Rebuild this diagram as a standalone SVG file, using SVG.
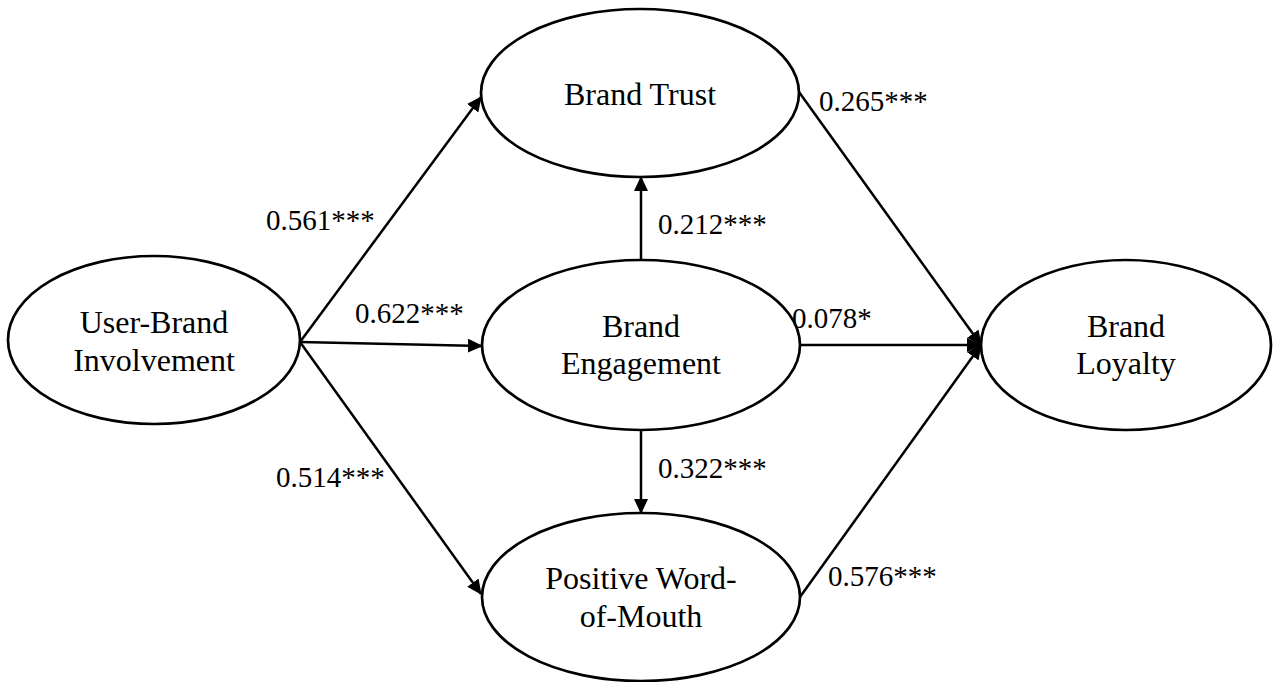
<svg xmlns="http://www.w3.org/2000/svg" width="1277" height="682" viewBox="0 0 1277 682">
<defs>
<marker id="ah" viewBox="0 0 15 14" refX="14" refY="7" markerWidth="15" markerHeight="14" markerUnits="userSpaceOnUse" orient="auto">
<path d="M0,0 L15,7 L0,14 Z" fill="#000"/>
</marker>
<style>
.node ellipse{fill:#fff;stroke:#000;stroke-width:2.7}
.node text{font-family:"Liberation Serif","Times New Roman",serif;font-size:32px;text-anchor:middle;fill:#000}
.lab{font-family:"Liberation Serif","Times New Roman",serif;font-size:29px;fill:#000}
.conn line{stroke:#000;stroke-width:2.5;marker-end:url(#ah)}
</style>
</defs>
<rect width="1277" height="682" fill="#fff"/>
<g class="conn" id="connectors">
<line x1="300" y1="342" x2="481" y2="97"/>
<line x1="300" y1="342" x2="482" y2="346"/>
<line x1="300" y1="342" x2="481" y2="594"/>
<line x1="641" y1="260" x2="641" y2="177"/>
<line x1="641" y1="430" x2="641" y2="513"/>
<line x1="799" y1="92" x2="981" y2="345"/>
<line x1="800" y1="345" x2="981" y2="345"/>
<line x1="800" y1="597" x2="981" y2="345"/>
</g>
<g class="node" id="n-ubi">
<ellipse cx="154" cy="340" rx="146" ry="84"/>
<text x="154" y="333">User-Brand</text>
<text x="154" y="371">Involvement</text>
</g>
<g class="node" id="n-trust">
<ellipse cx="640" cy="93" rx="159" ry="84"/>
<text x="640" y="105">Brand Trust</text>
</g>
<g class="node" id="n-engagement">
<ellipse cx="641" cy="345" rx="159" ry="85"/>
<text x="641" y="337">Brand</text>
<text x="641" y="374">Engagement</text>
</g>
<g class="node" id="n-wom">
<ellipse cx="641" cy="597" rx="159" ry="84"/>
<text x="641" y="589">Positive Word-</text>
<text x="641" y="627">of-Mouth</text>
</g>
<g class="node" id="n-loyalty">
<ellipse cx="1126" cy="345" rx="145" ry="85"/>
<text x="1126" y="337">Brand</text>
<text x="1126" y="374">Loyalty</text>
</g>
<g id="labels">
<text class="lab" x="266" y="230">0.561***</text>
<text class="lab" x="355" y="323">0.622***</text>
<text class="lab" x="276" y="487">0.514***</text>
<text class="lab" x="658" y="234">0.212***</text>
<text class="lab" x="658" y="478">0.322***</text>
<text class="lab" x="819" y="111">0.265***</text>
<text class="lab" x="792" y="328">0.078*</text>
<text class="lab" x="828" y="586">0.576***</text>
</g>
</svg>
